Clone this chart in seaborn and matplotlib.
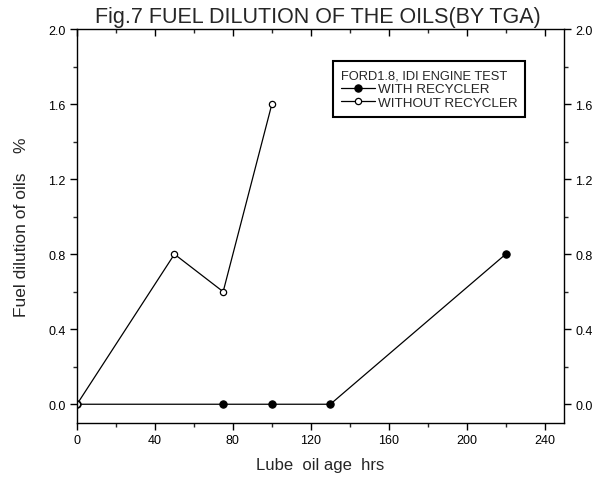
import matplotlib
matplotlib.use("Agg")
import matplotlib.pyplot as plt
import seaborn as sns
from matplotlib.ticker import MultipleLocator

sns.set_style("ticks")
plt.rcParams['font.family'] = ['Liberation Sans', 'DejaVu Sans']

with_x = [0, 75, 100, 130, 220]
with_y = [0.0, 0.0, 0.0, 0.0, 0.8]
without_x = [0, 50, 75, 100]
without_y = [0.0, 0.8, 0.6, 1.6]
xticks = [0, 40, 80, 120, 160, 200, 240]
yticks = [0.0, 0.4, 0.8, 1.2, 1.6, 2.0]

fig = plt.figure(figsize=(5.97, 4.81), dpi=100)
ax = fig.add_axes([0.129, 0.1185, 0.816, 0.819])

sns.lineplot(x=with_x, y=with_y, ax=ax, color='black', linewidth=0.9,
             marker='o', markersize=5.3, markerfacecolor='black',
             markeredgecolor='black', label='WITH RECYCLER')
sns.lineplot(x=without_x, y=without_y, ax=ax, color='black', linewidth=0.9,
             marker='o', markersize=4.5, markerfacecolor='white',
             markeredgecolor='black', markeredgewidth=0.9,
             label='WITHOUT RECYCLER')

ax.set_xlim(0, 250)
ax.set_ylim(-0.1, 2.0)
ax.set_xticks(xticks)
ax.set_yticks(yticks)
ax.set_yticklabels([f"{v:.1f}" for v in yticks])
ax.xaxis.set_minor_locator(MultipleLocator(20))
ax.yaxis.set_minor_locator(MultipleLocator(0.2))

for s in ax.spines.values():
    s.set_visible(True)
    s.set_linewidth(1.0)
    s.set_color('black')

ax.tick_params(axis='both', which='major', direction='out', length=5,
               width=1.0, labelsize=9, colors='black', pad=3)
ax.tick_params(axis='both', which='minor', direction='out', length=3, width=1.0)
ax.tick_params(axis='y', which='both', left=True, right=True, labelright=True)
ax.tick_params(axis='x', which='both', top=True, bottom=True)
# top ticks point inward
for t in ax.xaxis.get_major_ticks() + ax.xaxis.get_minor_ticks():
    t.tick2line.set_marker(3)

ax.set_xlabel("Lube  oil age  hrs", fontsize=12, labelpad=8)
ax.set_ylabel("Fuel dilution of oils    %", fontsize=12.5, labelpad=14)

leg = ax.legend(title="FORD1.8, IDI ENGINE TEST", loc='upper left',
                bbox_to_anchor=(0.526, 0.918), frameon=True, fancybox=False,
                edgecolor='black', fontsize=9.7, title_fontsize=9.3,
                handlelength=2.5, handletextpad=0.2, borderpad=0.6,
                labelspacing=0.1, borderaxespad=0)
leg._legend_box.align = "left"
leg.get_frame().set_linewidth(1.5)
leg.get_frame().set_alpha(1)

fig.text(0.533, 0.953, "Fig.7 FUEL DILUTION OF THE OILS(BY TGA)",
         ha='center', va='baseline', fontsize=15.5)

fig.savefig("out.png", dpi=100)
